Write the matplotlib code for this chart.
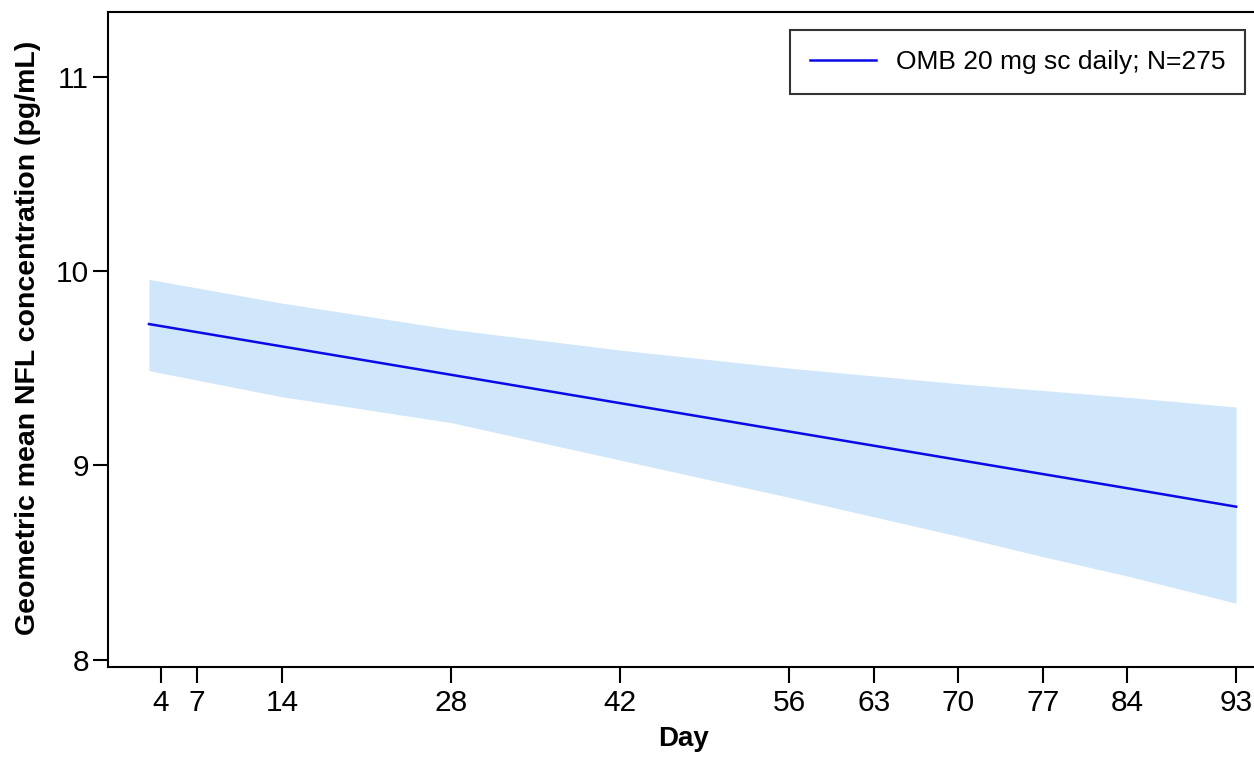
import matplotlib
matplotlib.use("Agg")
import matplotlib.pyplot as plt

days = [3, 14, 28, 42, 56, 63, 70, 77, 84, 93]
mean_nfl = [9.727, 9.612, 9.466, 9.320, 9.174, 9.101, 9.028, 8.955, 8.882, 8.787]
upper_ci = [9.957, 9.835, 9.700, 9.593, 9.500, 9.460, 9.420, 9.385, 9.350, 9.300]
lower_ci = [9.487, 9.353, 9.220, 9.027, 8.835, 8.735, 8.635, 8.530, 8.430, 8.290]
xticks = [4, 7, 14, 28, 42, 56, 63, 70, 77, 84, 93]
yticks = [8, 9, 10, 11]
series_label = "OMB 20 mg sc daily; N=275"

plt.rcParams['font.family'] = ['Liberation Sans', 'DejaVu Sans']

fig = plt.figure(figsize=(12.54, 7.57), dpi=100)
ax = fig.add_axes([108/1254, 1-667/757, 1-108/1254, (667-12)/757])

ax.fill_between(days, lower_ci, upper_ci, color='#cfe6fb', linewidth=0)
ax.plot(days, mean_nfl, color='#0a0ae6', linewidth=1.8, label=series_label)

ax.set_xlim(-0.39, 94.48)
ax.set_ylim(7.962, 11.333)
ax.set_xticks(xticks)
ax.set_yticks(yticks)
ax.set_xticklabels([str(t) for t in xticks], fontsize=21.5)
ax.set_yticklabels([str(t) for t in yticks], fontsize=21.5)
ax.tick_params(axis='x', direction='out', length=11.5, width=1.5, color='black', pad=4)
ax.tick_params(axis='y', direction='out', length=10.5, width=1.5, color='black', pad=3)

for s in ['left', 'bottom', 'top']:
    ax.spines[s].set_linewidth(1.5)
ax.spines['right'].set_visible(False)

ax.set_xlabel("Day", fontsize=20, fontweight='bold')
ax.xaxis.set_label_coords((683-108)/1146, -(752-667)/655)
ax.xaxis.label.set_va('bottom')
ax.set_ylabel("Geometric mean NFL concentration (pg/mL)", fontsize=20.5, fontweight='bold')
ax.yaxis.set_label_coords((41-108)/1146, (667-338)/655)

leg = ax.legend(loc='upper right', bbox_to_anchor=(1245/1254, 1-30/757),
                bbox_transform=fig.transFigure, fontsize=19, frameon=True,
                fancybox=False, edgecolor='black', handlelength=2.5,
                handletextpad=0.75, borderpad=0.75, borderaxespad=0)
leg.get_frame().set_linewidth(1.5)

fig.savefig("out.png", dpi=100)
